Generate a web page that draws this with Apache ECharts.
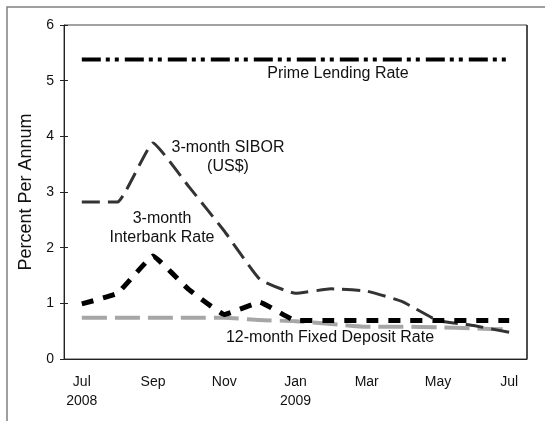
<!DOCTYPE html>
<html>
<head>
<meta charset="utf-8">
<script src="https://cdn.jsdelivr.net/npm/echarts@6/dist/echarts.min.js"></script>
<style>
  html, body { margin: 0; padding: 0; background: #fff; }
  #chart { width: 545px; height: 421px; }
</style>
</head>
<body>
<div id="chart"></div>
<script>
  // months Jul 2008 - Jul 2009
  const months = ['Jul\n2008', 'Aug', 'Sep', 'Oct', 'Nov', 'Dec', 'Jan\n2009', 'Feb', 'Mar', 'Apr', 'May', 'Jun', 'Jul'];

  const primeLending = [5.38, 5.38, 5.38, 5.38, 5.38, 5.38, 5.38, 5.38, 5.38, 5.38, 5.38, 5.38, 5.38];
  const sibor3m = [2.82, 2.82, 3.88, 3.1, 2.3, 1.43, 1.18, 1.26, 1.22, 1.03, 0.69, 0.6, 0.48];
  const interbank3m = [0.99, 1.18, 1.85, 1.25, 0.8, 1.02, 0.69, 0.69, 0.69, 0.69, 0.69, 0.69, 0.69];
  const fixedDeposit12m = [0.74, 0.74, 0.74, 0.74, 0.74, 0.7, 0.68, 0.63, 0.58, 0.58, 0.57, 0.55, 0.53];

  const FONT = 'Liberation Sans, Arial, sans-serif';

  const chart = echarts.init(document.getElementById('chart'));

  function note(text, x, y) {
    return {
      type: 'text', x: x, y: y,
      style: { text: text, font: '16px ' + FONT, fill: '#111', align: 'center', verticalAlign: 'middle' }
    };
  }

  chart.setOption({
    animation: false,
    backgroundColor: '#fff',
    grid: {
      left: 64, right: 18, top: 25, bottom: 62,
      show: true, borderColor: '#444', borderWidth: 1
    },
    xAxis: [{
      type: 'category',
      data: months,
      position: 'bottom',
      boundaryGap: true,
      axisLine: { lineStyle: { color: '#222', width: 1 } },
      axisTick: { alignWithLabel: true, length: 4, lineStyle: { color: '#222' } },
      axisLabel: {
        interval: 1, margin: 14, color: '#111',
        fontSize: 14, fontFamily: FONT, lineHeight: 19
      },
      splitLine: { show: false }
    }, {
      // inside half of the crossing ticks
      type: 'category',
      data: months,
      position: 'bottom',
      axisLine: { show: false },
      axisTick: { inside: true, alignWithLabel: true, length: 4, lineStyle: { color: '#222' } },
      axisLabel: { show: false },
      splitLine: { show: false }
    }],
    yAxis: [{
      type: 'value',
      min: 0, max: 6, interval: 1,
      name: 'Percent Per Annum',
      nameLocation: 'middle',
      nameGap: 27,
      nameTextStyle: { fontSize: 18, fontFamily: FONT, color: '#111' },
      axisLine: { show: true, lineStyle: { color: '#222', width: 1 } },
      axisTick: { show: true, length: 4, lineStyle: { color: '#222' } },
      axisLabel: { margin: 10, color: '#111', fontSize: 14, fontFamily: FONT },
      splitLine: { show: false }
    }, {
      type: 'value',
      min: 0, max: 6, interval: 1,
      position: 'left',
      axisLine: { show: false },
      axisTick: { show: true, inside: true, length: 4, lineStyle: { color: '#222' } },
      axisLabel: { show: false },
      splitLine: { show: false }
    }],
    series: [{
      name: 'Prime Lending Rate',
      type: 'line',
      data: primeLending,
      symbol: 'none',
      lineStyle: { color: '#000', width: 4, type: [19, 5, 4, 5, 4, 6], cap: 'butt' },
      z: 3
    }, {
      name: '3-month SIBOR (US$)',
      type: 'line',
      data: sibor3m,
      symbol: 'none',
      smooth: 0.12,
      lineStyle: { color: '#333', width: 3, type: [18, 8], cap: 'butt' },
      z: 2
    }, {
      name: '3-month Interbank Rate',
      type: 'line',
      data: interbank3m,
      symbol: 'none',
      smooth: 0.08,
      lineStyle: { color: '#000', width: 5, type: [12, 10], cap: 'butt' },
      z: 4
    }, {
      name: '12-month Fixed Deposit Rate',
      type: 'line',
      data: fixedDeposit12m,
      symbol: 'none',
      smooth: 0.2,
      lineStyle: { color: '#a6a6a6', width: 4, type: [25, 8], cap: 'butt' },
      z: 1
    }],
    graphic: [
      {
        type: 'rect',
        shape: { x: 7, y: 7, width: 700, height: 700 },
        style: { fill: 'none', stroke: '#808080', lineWidth: 1.5 },
        silent: true
      },
      {
        // plot frame, right side
        type: 'line',
        shape: { x1: 527, y1: 25, x2: 527, y2: 359 },
        style: { stroke: '#333', lineWidth: 1.5 },
        silent: true
      },
      note('Prime Lending Rate', 338, 74),
      note('3-month SIBOR', 228, 148),
      note('(US$)', 228, 167),
      note('3-month', 162, 219),
      note('Interbank Rate', 162, 238),
      note('12-month Fixed Deposit Rate', 330, 338)
    ]
  });
</script>
</body>
</html>
